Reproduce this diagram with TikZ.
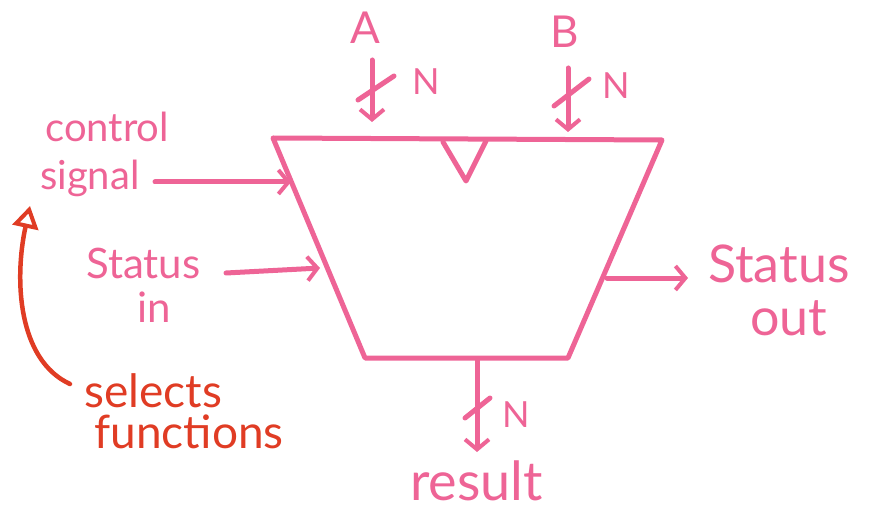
\documentclass[tikz,border=0pt]{standalone}
\usepackage{fontspec}
\setmainfont{Lato}
\usetikzlibrary{arrows.meta}
\definecolor{pk}{RGB}{238,100,150}
\definecolor{rd}{RGB}{224,60,36}
\begin{document}
\begin{tikzpicture}[x=1pt,y=-1pt,
  wire/.style={draw=pk,line width=5pt,line cap=round,line join=round},
  redwire/.style={draw=rd,line width=4.5pt,line cap=round,line join=round},
  tip/.style={-{Straight Barb[length=10pt,width=24pt,line width=4pt]}},
  lbl/.style={text=pk,inner sep=0pt,anchor=base west},
  fs/.style={font=\fontsize{#1}{#1}\selectfont}]
\useasboundingbox (0,0) rectangle (874,510);
% ALU body
\coordinate (tl) at (273,138);
\coordinate (tr) at (662,140);
\coordinate (br) at (568,358);
\coordinate (bl) at (365,358);
\draw[wire] (tl) -- (tr) -- (br) -- (bl) -- cycle;
\draw[wire] (443,142) -- (466,181) -- (486,141);
% inputs A and B
\node[lbl,fs=44] (A) at (350,44) {A};
\node[lbl,fs=44] (B) at (550,48) {B};
\coordinate (a0) at (372,60);
\coordinate (a1) at (372,122);
\draw[wire,tip] (a0) -- (a1);
\draw[wire] (358,100) -- (394,76);
\node[lbl,fs=36] (NA) at (412,95) {N};
\coordinate (b0) at (568,68);
\coordinate (b1) at (568,132);
\draw[wire,tip] (b0) -- (b1);
\draw[wire] (554,106) -- (589,79);
\node[lbl,fs=36] (NB) at (602,99) {N};
% control signal
\node[lbl,fs=40] (ctl) at (45,142) {control};
\node[lbl,fs=40] (sig) at (40,190) {signal};
\coordinate (cs0) at (155,182);
\coordinate (cs1) at (291,182);
\draw[wire,tip] (cs0) -- (cs1);
% status in
\node[lbl,fs=42] (sti) at (86,278) {Status};
\node[lbl,fs=42] (in) at (137,322) {in};
\coordinate (si0) at (226,273);
\coordinate (si1) at (320,268);
\draw[wire,tip] (si0) -- (si1);
% status out
\coordinate (so0) at (607,278);
\coordinate (so1) at (688,278);
\draw[wire,tip] (so0) -- (so1);
\node[lbl,fs=52] (sto) at (708,283) {Status};
\node[lbl,fs=52] (out) at (750,335) {out};
% result
\coordinate (r0) at (477,360);
\coordinate (r1) at (477,452);
\draw[wire,tip] (r0) -- (r1);
\draw[wire] (465,418) -- (490,398);
\node[lbl,fs=36] (NR) at (502,427) {N};
\node[lbl,fs=54] (res) at (410,500) {result};
% selects functions
\node[lbl,fs=46,text=rd] (sel) at (84,407) {selects};
\node[lbl,fs=46,text=rd] (fun) at (94,448) {functions};
\coordinate (sf0) at (70,384);
\coordinate (sf1) at (30,206);
\draw[redwire,-{Triangle[open,length=22pt,width=26pt,line width=4pt]}] (sf0) .. controls (18,360) and (14,280) .. (sf1);
\end{tikzpicture}
\end{document}
